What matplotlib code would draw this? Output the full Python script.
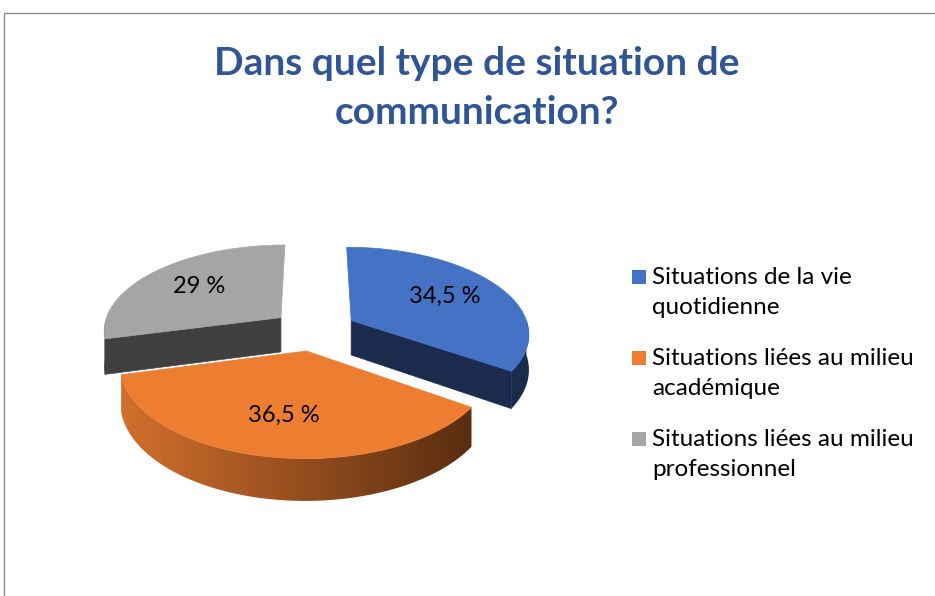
import numpy as np
import matplotlib.pyplot as plt
from matplotlib.patches import Polygon, Rectangle
import matplotlib.colors as mcolors

# data
categories = [
    "Situations de la vie\nquotidienne",
    "Situations liées au milieu\nacadémique",
    "Situations liées au milieu\nprofessionnel",
]
values = [34.5, 36.5, 29.0]
value_labels = ["34,5 %", "36,5 %", "29 %"]
top_colors = ["#4472C4", "#ED7D31", "#A5A5A5"]
side_left = ["#1B2B4E", "#D2702C", "#404040"]
side_right = ["#1B2B4E", "#5A2D11", "#404040"]
title = "Dans quel type de situation de\ncommunication?"

plt.rcParams["font.family"] = ["Lato", "DejaVu Sans"]

# 3D pie geometry (pixels)
CX, CY = 314, 330
R, RT = 178, 86
K = 0.14
H = 35
EXPLODE = 0.24


def project(u, v, z=0.0):
    s = 1.0 / (1.0 + K * v)
    return CX + s * R * u, CY - s * RT * v + s * H * z


fig = plt.figure(figsize=(9.35, 5.96), dpi=100)
ax = fig.add_axes([0, 0, 1, 1])
ax.set_xlim(0, 935)
ax.set_ylim(596, 0)
ax.axis("off")

# chart border
ax.plot([4, 4, 940], [600, 13, 13], color="#8c8c8c", lw=1.0)

total = sum(values)
bounds = np.concatenate([[0], np.cumsum(values)]) / total * 360.0

slices = []
for i in range(len(values)):
    t0, t1 = bounds[i], bounds[i + 1]
    mid = np.radians((t0 + t1) / 2)
    ou, ov = EXPLODE * np.sin(mid), EXPLODE * np.cos(mid)
    slices.append((i, t0, t1, ou, ov))

# back slices first
slices.sort(key=lambda s: -s[4])


def arc(t0, t1, ou, ov, z=0.0, n=80):
    th = np.radians(np.linspace(t0, t1, n))
    return [project(ou + np.sin(t), ov + np.cos(t), z) for t in th]


for i, t0, t1, ou, ov in slices:
    c_top = top_colors[i]
    cl = np.array(mcolors.to_rgb(side_left[i]))
    cr = np.array(mcolors.to_rgb(side_right[i]))

    # radial faces
    for t, visible in ((t1, np.sin(np.radians(t1)) > 0.01),
                       (t0, np.sin(np.radians(t0)) < -0.01)):
        if visible:
            a = np.radians(t)
            pts = [project(ou, ov), project(ou + np.sin(a), ov + np.cos(a)),
                   project(ou + np.sin(a), ov + np.cos(a), 1),
                   project(ou, ov, 1)]
            ax.add_patch(Polygon(pts, closed=True, fc=cl, ec=cl, lw=0.5))

    # outer rim (front half only), shaded left to right
    r0, r1 = max(t0, 90.0), min(t1, 270.0)
    if r1 > r0:
        top = arc(r0, r1, ou, ov, 0)
        bot = arc(r0, r1, ou, ov, 1)[::-1]
        rim = Polygon(top + bot, closed=True, fc=cr if i != 1 else "none",
                      ec="none", zorder=1)
        ax.add_patch(rim)
        if i == 1:
            xs = [p[0] for p in top + bot]
            ys = [p[1] for p in top + bot]
            grad = np.linspace(0, 1, 256)
            img = (cl[None, :] * (1 - grad[:, None]) + cr[None, :] * grad[:, None])[None, :, :]
            im = ax.imshow(img, extent=(min(xs), max(xs), max(ys), min(ys)),
                           aspect="auto", interpolation="bilinear", zorder=1)
            im.set_clip_path(rim)

    # top surface
    pts = [project(ou, ov)] + arc(t0, t1, ou, ov)
    ax.add_patch(Polygon(pts, closed=True, fc=c_top, ec=c_top, lw=0.5, zorder=1))

    # value label
    mid = np.radians((t0 + t1) / 2)
    lx, ly = project(ou + 0.64 * np.sin(mid), ov + 0.64 * np.cos(mid))
    ax.text(lx, ly, value_labels[i], ha="center", va="center",
            fontsize=17, color="black", zorder=3)

# title
ax.text(477, 88, title, ha="center", va="center", fontsize=28,
        fontweight="bold", color="#2F5597", linespacing=1.45)

# legend
for k, (lab, col) in enumerate(zip(categories, top_colors)):
    y0 = 270 + k * 81
    ax.add_patch(Rectangle((632, y0), 14, 14, fc=col, ec="none"))
    ax.text(652, y0 - 3, lab, ha="left", va="top", fontsize=17.5,
            color="black", linespacing=1.55)

fig.savefig("out.png", dpi=100)
